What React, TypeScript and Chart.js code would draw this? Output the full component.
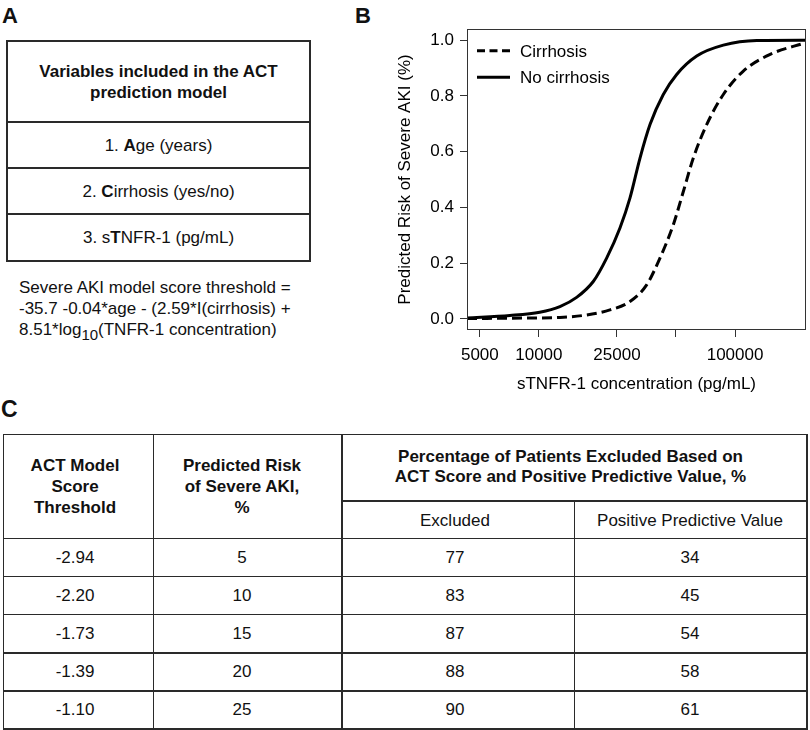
import React, { useEffect, useRef } from "react";
import { Chart, registerables } from "chart.js";

Chart.register(...registerables);

// ---------- Panel B data ----------
const noCirrhosisConc = [4300, 7115, 10100, 12800, 15570, 18930, 22150, 25900, 29140, 32770, 36850, 43070, 50400, 63770, 87150, 129000, 230000];
const noCirrhosisRisk = [0.003, 0.012, 0.024, 0.044, 0.077, 0.134, 0.218, 0.326, 0.434, 0.577, 0.697, 0.805, 0.877, 0.943, 0.982, 0.999, 1.0];
const cirrhosisConc = [4300, 8650, 12800, 17510, 23030, 29140, 35420, 41410, 48470, 54500, 61270, 71680, 87150, 110200, 151000, 230000];
const cirrhosisRisk = [0.001, 0.003, 0.005, 0.014, 0.032, 0.062, 0.122, 0.218, 0.338, 0.457, 0.577, 0.697, 0.805, 0.889, 0.949, 0.991];
const xTickValues = [5000, 10000, 25000, 50000, 100000];
const xTickLabels = ["5000", "10000", "25000", "", "100000"];
const yTickValues = [0, 0.2, 0.4, 0.6, 0.8, 1.0];
const seriesLabels = ["Cirrhosis", "No cirrhosis"];

// ---------- Panel A ----------
const modelHeader = ["Variables included in the ACT", "prediction model"];

// ---------- Panel C data ----------
const thresholds = ["-2.94", "-2.20", "-1.73", "-1.39", "-1.10"];
const riskPct = ["5", "10", "15", "20", "25"];
const excludedPct = ["77", "83", "87", "88", "90"];
const ppvPct = ["34", "45", "54", "58", "61"];

const FONT = "'Liberation Sans', Arial, Helvetica, sans-serif";
const LINE = "#2a2a2a";
const LW = 1.5;

function HLine({ x1, x2, y }: { x1: number; x2: number; y: number }) {
  return <div style={{ position: "absolute", left: x1 - LW / 2, top: y - LW / 2, width: x2 - x1 + LW, height: LW, background: LINE }} />;
}
function VLine({ x, y1, y2 }: { x: number; y1: number; y2: number }) {
  return <div style={{ position: "absolute", left: x - LW / 2, top: y1 - LW / 2, width: LW, height: y2 - y1 + LW, background: LINE }} />;
}
function CText({ cx, cy, lines, bold, lh = 21, size = 17 }: { cx: number; cy: number; lines: React.ReactNode[]; bold?: boolean; lh?: number; size?: number }) {
  const h = lines.length * lh;
  return (
    <div style={{ position: "absolute", left: cx - 200, width: 400, top: cy - h / 2, textAlign: "center", fontSize: size, lineHeight: lh + "px", fontWeight: bold ? "bold" : "normal", whiteSpace: "nowrap" }}>
      {lines.map((l, i) => (
        <div key={i}>{l}</div>
      ))}
    </div>
  );
}

const boxPlugin = {
  id: "plotBox",
  afterDraw(chart: any) {
    const { ctx, chartArea } = chart;
    ctx.save();
    ctx.strokeStyle = "#333";
    ctx.lineWidth = 1;
    ctx.setLineDash([]);
    ctx.strokeRect(chartArea.left + 0.5, chartArea.top + 0.5, chartArea.right - chartArea.left - 1, chartArea.bottom - chartArea.top - 1);
    ctx.restore();
  },
};

const legendPlugin = {
  id: "customLegend",
  afterDatasetsDraw(chart: any) {
    const { ctx, chartArea } = chart;
    ctx.save();
    chart.data.datasets.forEach((ds: any, i: number) => {
      const y = chartArea.top + 21.7 + i * 26.6;
      ctx.beginPath();
      ctx.setLineDash(ds.borderDash && ds.borderDash.length ? [8, 4.5] : []);
      ctx.lineWidth = 3;
      ctx.strokeStyle = "#000";
      ctx.moveTo(chartArea.left + 10, y);
      ctx.lineTo(chartArea.left + 43, y);
      ctx.stroke();
      ctx.setLineDash([]);
      ctx.fillStyle = "#000";
      ctx.font = "17px 'Liberation Sans', Arial, sans-serif";
      ctx.textBaseline = "alphabetic";
      ctx.textAlign = "left";
      ctx.fillText(ds.label, chartArea.left + 53, y + 6);
    });
    ctx.restore();
  },
};

function RiskChart() {
  const ref = useRef<HTMLCanvasElement | null>(null);
  useEffect(() => {
    if (!ref.current) return;
    const tickFont = { family: "'Liberation Sans', Arial, sans-serif", size: 17 };
    const chart = new Chart(ref.current, {
      type: "line",
      data: {
        datasets: [
          {
            label: seriesLabels[0],
            data: cirrhosisConc.map((x, i) => ({ x, y: cirrhosisRisk[i] })),
            borderColor: "#000",
            borderWidth: 3,
            borderDash: [10, 5],
            pointRadius: 0,
            fill: false,
            cubicInterpolationMode: "monotone",
          },
          {
            label: seriesLabels[1],
            data: noCirrhosisConc.map((x, i) => ({ x, y: noCirrhosisRisk[i] })),
            borderColor: "#000",
            borderWidth: 3,
            borderDash: [],
            pointRadius: 0,
            fill: false,
            cubicInterpolationMode: "monotone",
          },
        ],
      },
      options: {
        responsive: false,
        animation: false,
        devicePixelRatio: 1,
        layout: { padding: { top: 29, right: 4, left: 0, bottom: 0 } },
        plugins: { legend: { display: false }, tooltip: { enabled: false } },
        scales: {
          x: {
            type: "logarithmic",
            min: 4300,
            max: 230000,
            afterBuildTicks: (s: any) => {
              s.ticks = xTickValues.map((v) => ({ value: v }));
            },
            afterFit: (s: any) => {
              s.height = 70;
            },
            ticks: {
              autoSkip: false,
              maxRotation: 0,
              minRotation: 0,
              padding: 8,
              color: "#000",
              font: tickFont,
              callback: (_v: any, i: number) => xTickLabels[i],
            },
            grid: { drawOnChartArea: false, drawTicks: true, tickLength: 7, color: "#333", tickWidth: 1 },
            border: { display: false },
            title: { display: true, text: "sTNFR-1 concentration (pg/mL)", color: "#000", font: tickFont, padding: { top: 0, bottom: 5 } },
          },
          y: {
            type: "linear",
            min: -0.04,
            max: 1.04,
            afterBuildTicks: (s: any) => {
              s.ticks = yTickValues.map((v) => ({ value: v }));
            },
            afterFit: (s: any) => {
              s.width = 87;
            },
            ticks: {
              padding: 6,
              color: "#000",
              font: tickFont,
              callback: (v: any) => Number(v).toFixed(1),
            },
            grid: { drawOnChartArea: false, drawTicks: true, tickLength: 7, color: "#333", tickWidth: 1 },
            border: { display: false },
            title: { display: true, text: "Predicted Risk of Severe AKI (%)", color: "#000", font: tickFont, padding: { top: 15, bottom: 0 } },
          },
        },
      } as any,
      plugins: [boxPlugin, legendPlugin],
    });
    return () => chart.destroy();
  }, []);
  return <canvas ref={ref} width={430} height={400} style={{ position: "absolute", left: 380, top: 0, width: 430, height: 400 }} />;
}

export default function App() {
  const rowTop = 538.5;
  const rowH = 38.1;
  return (
    <div style={{ position: "absolute", left: 0, top: 0, width: 810, height: 730, background: "#fff", fontFamily: FONT, color: "#111", overflow: "hidden" }}>
      {/* Panel letters */}
      <div style={{ position: "absolute", left: 2, top: 5, fontSize: 22, fontWeight: "bold", lineHeight: "22px" }}>A</div>
      <div style={{ position: "absolute", left: 355, top: 5, fontSize: 22, fontWeight: "bold", lineHeight: "22px" }}>B</div>
      <div style={{ position: "absolute", left: 1, top: 398, fontSize: 23, fontWeight: "bold", lineHeight: "23px" }}>C</div>

      {/* Panel A table */}
      <HLine x1={7} x2={310} y={41} />
      <HLine x1={7} x2={310} y={122} />
      <HLine x1={7} x2={310} y={168} />
      <HLine x1={7} x2={310} y={214} />
      <HLine x1={7} x2={310} y={261} />
      <VLine x={7} y1={41} y2={261} />
      <VLine x={310} y1={41} y2={261} />
      <CText cx={158.5} cy={82.5} lines={modelHeader} bold lh={21.6} />
      <CText cx={158.5} cy={145.5} lines={[<span>1. <b>A</b>ge (years)</span>]} />
      <CText cx={158.5} cy={191.5} lines={[<span>2. <b>C</b>irrhosis (yes/no)</span>]} />
      <CText cx={158.5} cy={237.5} lines={[<span>3. s<b>T</b>NFR-1 (pg/mL)</span>]} />
      <div style={{ position: "absolute", left: 19, top: 277, fontSize: 17, lineHeight: "21px", whiteSpace: "nowrap" }}>
        <div>Severe AKI model score threshold =</div>
        <div>-35.7 -0.04*age - (2.59*I(cirrhosis) +</div>
        <div>
          8.51*log<span style={{ fontSize: 15, position: "relative", top: 5 }}>10</span>(TNFR-1 concentration)
        </div>
      </div>

      {/* Panel B chart */}
      <RiskChart />

      {/* Panel C table */}
      <HLine x1={3.5} x2={807} y={434.5} />
      <HLine x1={342} x2={807} y={501} />
      <HLine x1={3.5} x2={807} y={rowTop} />
      {thresholds.map((_, i) => (
        <HLine key={i} x1={3.5} x2={807} y={rowTop + rowH * (i + 1)} />
      ))}
      <VLine x={3.5} y1={434.5} y2={729} />
      <VLine x={153.5} y1={434.5} y2={729} />
      <VLine x={342} y1={434.5} y2={729} />
      <VLine x={574.5} y1={501} y2={729} />
      <VLine x={807} y1={434.5} y2={729} />

      <CText cx={75} cy={486.5} lines={["ACT Model", "Score", "Threshold"]} bold />
      <CText cx={242} cy={486.5} lines={["Predicted Risk", "of Severe AKI,", "%"]} bold />
      <CText cx={570.5} cy={467} lines={["Percentage of Patients Excluded Based on", "ACT Score and Positive Predictive Value, %"]} bold lh={20.5} />
      <CText cx={455} cy={520.5} lines={["Excluded"]} />
      <CText cx={690} cy={520.5} lines={["Positive Predictive Value"]} />

      {thresholds.map((t, i) => {
        const cy = rowTop + rowH * (i + 0.5);
        return (
          <React.Fragment key={i}>
            <CText cx={75} cy={cy} lines={[t]} />
            <CText cx={242} cy={cy} lines={[riskPct[i]]} />
            <CText cx={455} cy={cy} lines={[excludedPct[i]]} />
            <CText cx={690} cy={cy} lines={[ppvPct[i]]} />
          </React.Fragment>
        );
      })}
    </div>
  );
}
